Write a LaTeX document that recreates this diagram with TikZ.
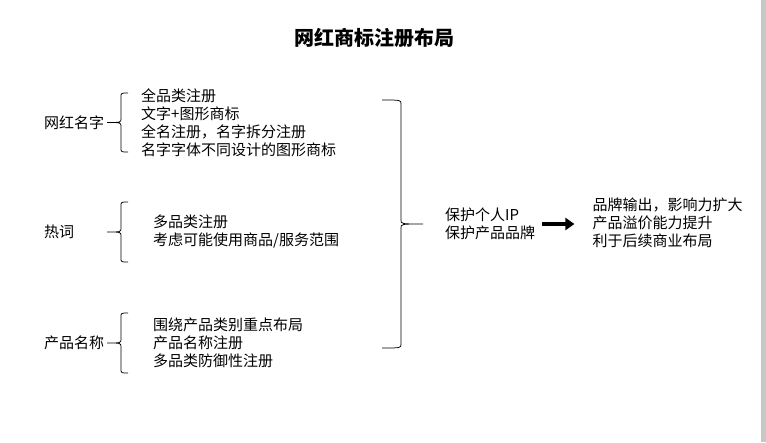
\documentclass[tikz,border=0pt]{standalone}
\usepackage{fontspec}
\setmainfont{Noto Sans CJK SC}
\usepackage{tikz}
\usetikzlibrary{positioning,calc,arrows.meta}
% curly brace: name, x of ends, x of bar, x of tip, top y, bottom y
\newcommand{\wbrace}[6]{%
  \coordinate (#1-t) at (#2,#5);
  \coordinate (#1-b) at (#2,#6);
  \coordinate (#1-m) at (#3,{(#5+#6)/2});
  \coordinate (#1) at (#4,{(#5+#6)/2});
  \draw[brc] (#1-t) .. controls (#3,#5) .. (#3,#5+4)
    -- ($(#1-m)+(0,-4)$) .. controls (#1-m) .. (#1)
    .. controls (#1-m) .. ($(#1-m)+(0,4)$)
    -- (#3,#6-4) .. controls (#3,#6) .. (#1-b);
}
\tikzset{
  brc/.style={line width=0.75pt,black},
  ttl/.style={font=\fontsize{20}{23}\selectfont\bfseries,inner sep=0pt},
  lbl/.style={font=\fontsize{15}{18}\selectfont,inner sep=0pt,anchor=west},
  items/.style={font=\fontsize{15}{18}\selectfont,align=left,inner sep=0pt},
  bigarrow/.style={-{Triangle[length=9pt,width=12pt]},line width=4.5pt},
}
\begin{document}
\begin{tikzpicture}[x=1pt,y=-1pt]
  \useasboundingbox (0,0) rectangle (766,442);
  \fill[black!22] (761,0) rectangle (766,442);
  \node[ttl] (title) at (374,38) {网红商标注册布局};
  % braces
  \wbrace{b1}{128}{121}{107}{93}{152}
  \wbrace{b2}{128}{121}{107}{202}{262}
  \wbrace{b3}{128}{121}{107}{313}{373}
  \wbrace{br}{382}{401}{423}{100}{348}
  % left column
  \node[lbl] (wh) at (44,123) {网红名字};
  \node[lbl] (hot) at (44,232) {热词};
  \node[lbl] (prod) at (44,343) {产品名称};
  \node[items,right=20pt of b1-m] (g1) {全品类注册\\文字+图形商标\\全名注册，名字拆分注册\\名字字体不同设计的图形商标};
  \node[items,right=32pt of b2-m] (g2) {多品类注册\\考虑可能使用商品/服务范围};
  \node[items,right=32pt of b3-m] (g3) {围绕产品类别重点布局\\产品名称注册\\多品类防御性注册};
  % result
  \node[items,right=22pt of br] (prot) {保护个人IP\\保护产品品牌};
  \node[items,right=57pt of prot,yshift=1.5pt] (out) {品牌输出，影响力扩大\\产品溢价能力提升\\利于后续商业布局};
  \draw[bigarrow] ([xshift=7pt]prot.east) -- ([xshift=-18pt]prot.east -| out.west);
\end{tikzpicture}
\end{document}
